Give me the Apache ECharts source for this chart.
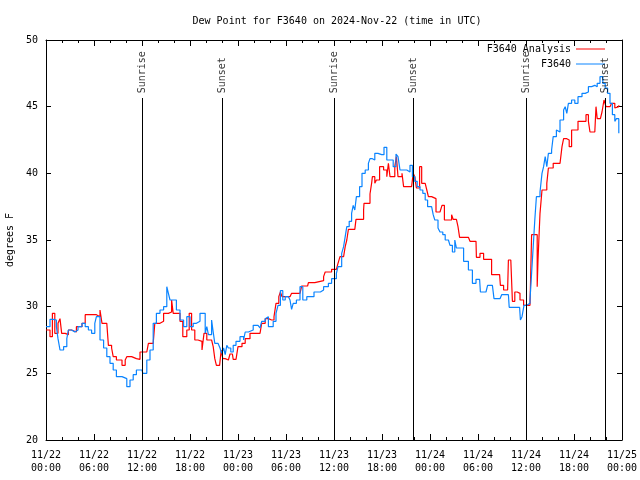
<!DOCTYPE html>
<html><head><meta charset="utf-8">
<script src="https://cdn.jsdelivr.net/npm/echarts@6/dist/echarts.min.js"></script>
<style>html,body{margin:0;padding:0;background:#fff}#c{width:640px;height:480px}</style>
</head><body><div id="c"></div>
<script>
// hours since 2024-11-22 00:00 UTC
const analysisHours = [0,0.5,0.8,1.1,1.5,1.75,1.96,2.4,2.8,3.2,3.8,4.5,4.9,5.3,5.9,6.3,6.75,7.0,7.6,7.8,8.2,8.4,8.8,9.5,9.9,10.1,10.7,11.3,11.75,12.6,12.8,13.4,13.6,14.25,14.7,15.3,15.7,15.9,16.3,16.75,17.1,17.6,17.9,18.2,18.6,19.0,19.5,19.75,20.1,20.7,20.9,21.1,21.3,21.7,21.9,22.1,22.4,22.8,23.0,23.3,23.4,23.75,24.0,24.5,24.9,25.5,26.3,26.75,26.96,27.4,27.8,28.2,28.5,28.75,29.1,29.3,29.5,30.5,30.7,31.75,31.96,32.7,32.8,33.6,34.7,34.9,35.7,36.3,36.5,36.75,37.2,37.4,37.6,37.8,38.6,38.75,39.7,39.75,40.5,40.7,40.8,41.1,41.3,41.7,42.2,42.6,42.8,43.0,43.3,43.6,43.8,44.0,44.5,44.7,45.3,45.7,45.9,46.1,46.3,46.7,46.96,47.4,47.6,47.8,48.2,48.75,49.25,49.5,49.8,50.4,50.7,50.9,51.3,51.5,51.7,52.8,53.0,53.75,53.8,54.25,54.7,55.4,55.7,56.7,56.8,57.2,57.7,57.8,58.1,58.3,58.6,58.9,59.25,59.7,60.5,60.7,61.1,61.4,61.5,61.75,62.0,62.6,62.8,63.4,64.25,64.5,64.7,65.1,65.4,65.7,66.5,67.0,67.5,67.8,68.0,68.6,68.75,68.9,69.3,69.5,69.75,70.0,70.5,70.7,71.1,71.3,71.6];
const analysisValues = [28.25,27.75,29.5,28.0,28.75,29.1,28.0,27.9,28.25,28.1,28.5,28.75,29.4,29.4,29.4,29.25,29.75,28.75,28.75,27.1,26.9,26.25,26.0,25.6,26.0,26.25,26.1,26.05,26.6,26.75,27.25,27.25,28.75,28.9,29.5,29.6,30.5,29.5,29.5,28.9,27.75,28.25,29.5,28.25,27.5,27.4,26.75,28.0,27.5,27.5,27.0,26.1,25.6,25.5,26.75,26.1,26.0,26.0,26.45,26.45,26.05,26.05,27.0,27.25,27.6,28.0,28.0,28.1,28.75,29.1,29.0,29.0,29.25,30.25,30.75,31.1,30.75,30.75,31.0,31.0,31.55,31.55,31.8,31.95,32.25,32.6,32.8,32.9,33.25,33.75,33.75,34.5,35.0,35.8,35.8,36.55,37.25,37.75,38.45,39.25,39.75,39.25,39.5,40.5,40.25,39.75,40.75,39.75,39.75,40.5,41.25,39.75,40.0,39.0,39.0,38.9,40.0,39.75,38.9,40.5,39.25,39.4,38.75,38.25,38.1,37.1,37.1,37.6,36.5,36.5,36.9,36.55,36.5,36.0,35.2,35.2,34.9,34.9,33.7,34.0,33.55,33.55,32.4,32.4,31.6,31.25,31.25,33.5,33.5,30.4,31.1,31.0,30.5,30.1,30.1,35.4,35.4,31.5,33.5,37.0,38.75,39.25,40.4,40.75,40.9,42.0,42.6,42.5,42.0,43.25,43.9,43.9,44.4,43.9,43.1,43.1,45.0,44.1,44.1,44.6,45.5,45.0,45.0,45.25,44.9,45.0,45.1];
const stationHours = [0,0.5,0.9,1.3,1.5,1.75,2.2,2.6,2.8,3.2,3.6,4.0,4.5,4.9,5.3,5.7,6.1,6.3,6.75,7.2,7.6,8.0,8.4,8.8,9.5,10.1,10.5,10.9,11.3,12.0,12.1,12.6,13.0,13.4,13.8,14.25,14.7,15.1,15.3,15.5,15.9,16.3,16.75,17.2,17.6,18.0,18.4,18.8,19.25,19.6,19.9,20.1,20.3,20.7,20.9,21.1,21.5,21.75,21.96,22.2,22.4,22.6,22.8,23.1,23.4,23.75,24.0,24.25,24.7,24.9,25.3,25.5,25.9,26.5,26.75,26.96,27.4,27.6,27.8,28.0,28.4,28.75,29.0,29.3,29.6,29.9,30.3,30.5,30.7,30.9,31.3,31.75,32.1,32.6,33.5,34.3,34.7,35.3,35.7,36.0,36.3,36.5,36.96,37.2,37.4,37.6,37.9,38.2,38.4,38.6,38.8,39.2,39.5,39.9,40.3,40.5,40.8,41.1,41.5,41.96,42.25,42.6,43.0,43.4,43.75,44.0,44.25,44.7,45.1,45.5,45.8,46.1,46.4,46.75,47.1,47.4,47.7,48.2,48.4,48.6,49.0,49.25,49.6,49.9,50.3,50.5,50.8,51.1,51.3,51.9,52.2,52.8,53.3,53.75,54.2,54.3,55.0,55.2,55.8,56.0,56.75,56.96,57.8,57.9,59.2,59.3,59.5,59.75,60.1,60.5,60.7,60.9,61.1,61.3,61.75,62.0,62.2,62.4,62.6,62.8,63.2,63.4,63.8,64.0,64.25,64.7,64.9,65.1,65.3,65.7,66.1,66.5,67.0,67.4,67.8,68.2,68.6,68.9,69.25,69.6,69.9,70.2,70.5,70.8,71.1,71.3,71.6];
const stationValues = [28.5,29.05,29.0,28.5,27.6,26.75,27.0,27.6,28.25,28.1,28.25,28.5,28.75,28.5,28.25,28.0,28.75,29.25,27.5,26.9,26.25,25.75,25.25,24.75,24.6,24.0,24.5,24.9,25.25,25.25,25.0,26.0,26.75,28.75,29.5,29.75,30.0,31.5,31.0,30.5,30.5,29.75,29.0,28.5,29.25,28.5,28.75,28.9,29.5,29.5,28.0,28.5,27.9,29.0,28.1,27.25,27.25,26.9,26.5,26.9,26.4,27.1,26.9,26.6,27.1,27.4,27.4,27.75,27.5,28.1,28.0,28.25,28.6,28.75,28.4,28.9,29.1,29.25,28.5,28.5,28.9,29.5,30.1,31.2,30.5,30.75,30.75,30.5,29.8,30.25,30.5,31.5,30.5,30.75,31.1,31.25,31.5,31.75,32.1,32.1,32.5,33.0,34.0,34.5,35.25,36.0,36.4,37.0,37.6,37.25,38.25,39.0,40.0,40.25,40.75,41.1,41.0,41.5,41.4,41.4,41.95,41.0,41.0,40.5,41.45,41.25,40.25,40.25,40.1,40.6,39.75,39.4,39.0,38.75,38.5,38.0,37.5,37.4,36.9,36.5,35.9,35.6,35.4,35.0,35.0,34.6,34.1,35.0,34.4,34.4,33.4,32.75,31.75,32.05,32.05,31.1,31.25,31.6,31.6,30.6,30.6,30.9,30.9,29.95,29.95,29.0,29.25,30.1,30.25,30.5,32.5,34.5,36.5,38.25,38.6,40.0,40.5,41.25,40.5,41.5,41.75,42.75,43.25,43.1,44.0,44.75,45.0,44.5,45.25,45.5,45.25,45.75,46.0,46.1,46.5,46.6,46.5,46.75,47.25,46.75,46.4,46.0,45.25,44.4,43.9,44.1,43.0];
const eventHours = [12.0, 22.0, 36.0, 45.9, 60.0, 69.95];
const eventNames = ['Sunrise','Sunset','Sunrise','Sunset','Sunrise','Sunset'];
const yTicks = [20,25,30,35,40,45,50];
const seriesNames = ['F3640 Analysis','F3640'];
const titleText = 'Dew Point for F3640 on 2024-Nov-22 (time in UTC)';
const yName = 'degrees F';

const FONT = 'DejaVu Sans Mono';
const zip = (a,b) => a.map((x,i)=>[x,b[i]]);
const fmtX = v => { const d = 22 + Math.floor(v/24); const h = v % 24; return '11/' + d + '\n' + String(h).padStart(2,'0') + ':00'; };

const chart = echarts.init(document.getElementById('c'), null, {renderer:'canvas'});
const axisBase = {
  type:'value', min:0, max:72, interval:6,
  axisLine:{show:true, onZero:false, lineStyle:{color:'#000', width:1}},
  axisTick:{show:true, inside:true, length:6, lineStyle:{color:'#000'}},
  minorTick:{show:true, splitNumber:3, length:3, lineStyle:{color:'#000'}},
  splitLine:{show:false}, minorSplitLine:{show:false}
};
const yBase = {
  type:'value', min:yTicks[0], max:yTicks[yTicks.length-1], interval:5,
  axisLine:{show:true, onZero:false, lineStyle:{color:'#000', width:1}},
  axisTick:{show:true, inside:true, length:5, lineStyle:{color:'#000'}},
  splitLine:{show:false}
};
chart.setOption({
  animation:false,
  backgroundColor:'#fff',
  title:{text:titleText, left:332, textAlign:'center', top:11,
    textStyle:{fontFamily:FONT, fontSize:10, fontWeight:'normal', color:'#000'}},
  grid:{left:46, right:18, top:40, bottom:40, containLabel:false, outerBoundsMode:'none'},
  legend:{data:seriesNames.map(n=>({name:n, icon:'rect'})), orient:'vertical', align:'right', right:30, top:37,
    itemWidth:29, itemHeight:1, itemGap:1,
    textStyle:{fontFamily:FONT, fontSize:10, color:'#000', lineHeight:14}},
  xAxis:[
    Object.assign({}, axisBase, {position:'bottom',
      axisLabel:{formatter:fmtX, fontFamily:FONT, fontSize:10, color:'#000', lineHeight:13, margin:9, showMaxLabel:true, showMinLabel:true}}),
    Object.assign({}, axisBase, {position:'top', axisLabel:{show:false}})
  ],
  yAxis:[
    Object.assign({}, yBase, {position:'left', name:yName, nameLocation:'middle', nameGap:31,
      nameTextStyle:{fontFamily:FONT, fontSize:10, color:'#000'},
      axisLabel:{fontFamily:FONT, fontSize:10, color:'#000', margin:8}}),
    Object.assign({}, yBase, {position:'right', axisLabel:{show:false}})
  ],
  series:[
    {name:seriesNames[0], type:'line', data:zip(analysisHours, analysisValues), step:'end',
      symbol:'none', color:'#ff0000', lineStyle:{width:1.2, color:'#ff0000'}, z:2},
    {name:seriesNames[1], type:'line', data:zip(stationHours, stationValues), step:'end',
      symbol:'none', color:'#0a84ff', lineStyle:{width:1.2, color:'#0a84ff'}, z:3},
    {name:'events', type:'scatter', symbolSize:0, z:4, silent:true,
      data:eventHours.map((h,i)=>[h, 46.0, eventNames[i]]),
      label:{show:true, position:'inside', rotate:90, align:'left', verticalAlign:'middle',
        formatter:p=>p.value[2], fontFamily:FONT, fontSize:10, color:'#000'},
      markLine:{silent:true, symbol:['none','none'], label:{show:false},
        lineStyle:{color:'#000', width:1, type:'solid'},
        data:eventHours.map(h=>[{coord:[h,20]},{coord:[h,45.65]}])}
    }
  ]
});
</script></body></html>
